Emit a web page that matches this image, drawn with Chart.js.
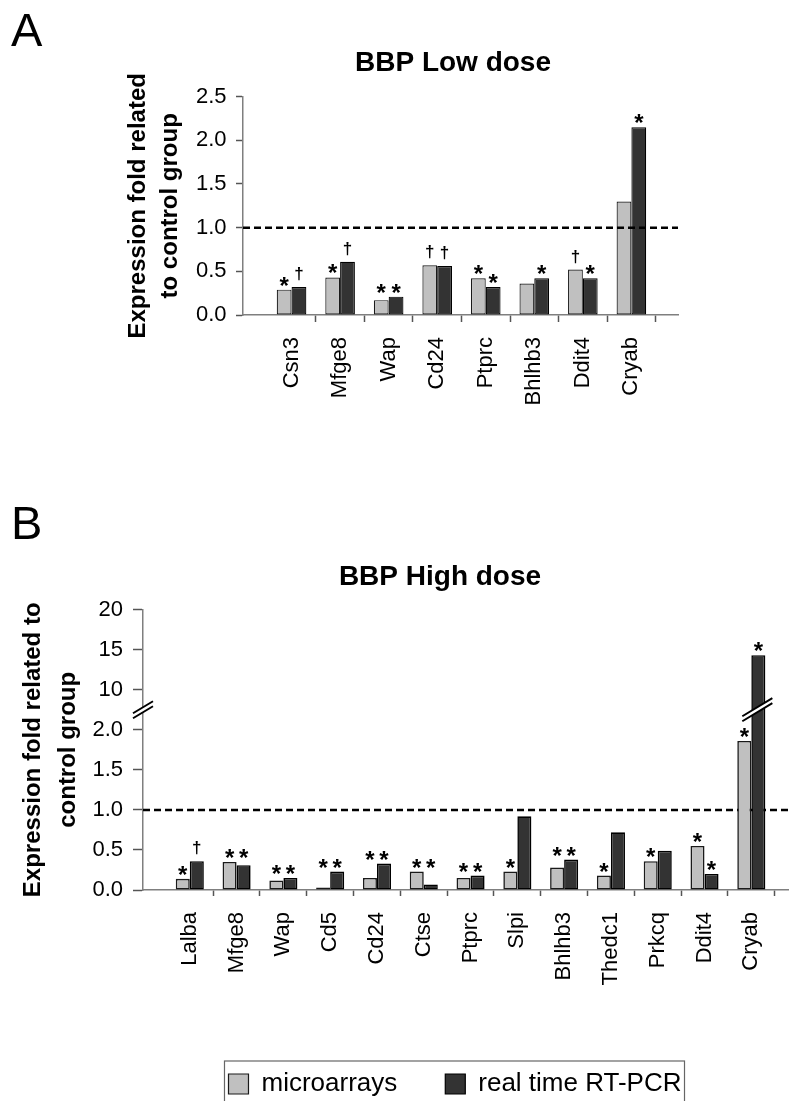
<!DOCTYPE html>
<html>
<head>
<meta charset="utf-8">
<script src="https://cdn.jsdelivr.net/npm/chart.js@4.4.0/dist/chart.umd.min.js"></script>
<style>
  html, body { margin: 0; padding: 0; background: #fff; }
  #page { position: relative; width: 789px; height: 1101px; overflow: hidden; font-family: "Liberation Sans", Arial, sans-serif; }
  canvas { position: absolute; left: 0; }
  .letter { position: absolute; left: 11px; font-size: 47px; line-height: 47px; color: #000; }
</style>
</head>
<body>
<div id="page">
  <canvas id="chartA" width="789" height="480" style="top:0"></canvas>
  <canvas id="chartB" width="880" height="621" style="top:480px"></canvas>
  <canvas id="legend" width="910" height="220" style="top:1023px"></canvas>
  <div class="letter" style="top:6px">A</div>
  <div class="letter" style="top:499px">B</div>
</div>
<script>
// --- data -------------------------------------------------------------
const SERIES = ['microarrays', 'real time RT-PCR'];
const CONTROL_LEVEL = 1.0;

// A: BBP low dose
const A_GENES = ['Csn3', 'Mfge8', 'Wap', 'Cd24', 'Ptprc', 'Bhlhb3', 'Ddit4', 'Cryab'];
const A_MICRO = [0.29, 0.43, 0.17, 0.57, 0.42, 0.36, 0.52, 1.30];
const A_RTPCR = [0.32, 0.61, 0.21, 0.56, 0.32, 0.42, 0.42, 2.15];
const A_MICRO_SIG = ['*', '*', '*', '†', '*', '', '†', ''];
const A_RTPCR_SIG = ['†', '†', '*', '†', '*', '*', '*', '*'];

// B: BBP high dose (y axis broken between 2 and 10)
const B_GENES = ['Lalba', 'Mfge8', 'Wap', 'Cd5', 'Cd24', 'Ctse', 'Ptprc', 'Slpi', 'Bhlhb3', 'Thedc1', 'Prkcq', 'Ddit4', 'Cryab'];
const B_MICRO = [0.14, 0.35, 0.12, 0.03, 0.15, 0.23, 0.15, 0.23, 0.28, 0.18, 0.36, 0.55, 1.86];
const B_RTPCR = [0.36, 0.31, 0.15, 0.23, 0.33, 0.07, 0.18, 0.92, 0.38, 0.72, 0.49, 0.20, 14.3];
const B_MICRO_SIG = ['*', '*', '*', '*', '*', '*', '*', '*', '*', '*', '*', '*', '*'];
const B_RTPCR_SIG = ['†', '*', '*', '*', '*', '*', '*', '', '*', '', '', '*', '*'];
const B_TICKS = [0, 0.5, 1, 1.5, 2, 10, 15, 20];
const B_BREAK = [2, 10];

// --- look --------------------------------------------------------------
const FONT = '"Liberation Sans", Arial, sans-serif';
const MICRO_FILL = '#c0c0c0';
const RT_FILL = '#333333';
const AXIS_GREY = '#7f7f7f';
const SIG_STYLE = { '*': { size: 24, gap: 4 }, '†': { size: 17, gap: 6 } };

Chart.defaults.font.family = FONT;
Chart.defaults.color = '#000';

// linear scale with the 2..10 gap squeezed into one tick slot
class BrokenScale extends Chart.LinearScale {
  static id = 'broken';
  static defaults = Chart.LinearScale.defaults;
  buildTicks() { return B_TICKS.map(v => ({ value: v })); }
  slot(v) {
    const [lo, hi] = B_BREAK;
    if (v <= lo) return v / 0.5;
    if (v >= hi) return 5 + (v - hi) / 5;
    return 4 + (v - lo) / (hi - lo);
  }
  getPixelForValue(v) { return this.getPixelForDecimal(this.slot(v) / 7); }
  getValueForPixel(p) {
    const s = this.getDecimalForPixel(p) * 7;
    const [lo, hi] = B_BREAK;
    if (s <= 4) return s * 0.5;
    if (s >= 5) return hi + (s - 5) * 5;
    return lo + (s - 4) * (hi - lo);
  }
}
Chart.register(BrokenScale);

// dashed line at the control level
function drawControl(chart) {
  const { ctx, chartArea } = chart;
  const y = chart.scales.y.getPixelForValue(CONTROL_LEVEL);
  ctx.save();
  ctx.setLineDash([7, 4]);
  ctx.lineWidth = 2.5;
  ctx.strokeStyle = '#000';
  ctx.beginPath();
  ctx.moveTo(chartArea.left, y);
  ctx.lineTo(chartArea.right, y);
  ctx.stroke();
  ctx.restore();
}
const controlLine = {
  id: 'controlLine',
  beforeDatasetsDraw(chart, args, opts) { if (!opts.onTop) drawControl(chart); },
  afterDatasetsDraw(chart, args, opts) { if (opts.onTop) drawControl(chart); }
};

// * and † above the bars; a pair of stars on near-equal bars shares one height
const sigMarks = {
  id: 'sigMarks',
  afterDatasetsDraw(chart, args, opts) {
    const { ctx } = chart;
    const m0 = chart.getDatasetMeta(0).data;
    const m1 = chart.getDatasetMeta(1).data;
    ctx.save();
    ctx.fillStyle = '#000';
    ctx.textAlign = 'center';
    ctx.textBaseline = 'alphabetic';
    m0.forEach((_, i) => {
      const bars = [m0[i], m1[i]];
      const syms = [opts.marks[0][i], opts.marks[1][i]];
      let tops = bars.map(b => b.y);
      if (syms[0] === '*' && syms[1] === '*' && Math.abs(tops[0] - tops[1]) < opts.alignPx) {
        const t = Math.min(tops[0], tops[1]);
        tops = [t, t];
      }
      syms.forEach((s, k) => {
        if (!s) return;
        const st = SIG_STYLE[s];
        ctx.font = 'bold ' + st.size + 'px ' + FONT;
        const desc = ctx.measureText(s).actualBoundingBoxDescent;
        ctx.fillText(s, bars[k].x, tops[k] - st.gap - desc);
      });
    });
    ctx.restore();
  }
};

// "//" marks on the y axis and on bars that cross the gap
function drawBreak(ctx, xl, xr, yc) {
  const rise = (xr - xl) * 0.6, gap = 5;
  const y1 = yc + rise / 2 + gap / 2, y2 = yc - rise / 2 + gap / 2;
  ctx.save();
  ctx.fillStyle = '#fff';
  ctx.beginPath();
  ctx.moveTo(xl, y1); ctx.lineTo(xr, y2); ctx.lineTo(xr, y2 - gap); ctx.lineTo(xl, y1 - gap);
  ctx.closePath();
  ctx.fill();
  ctx.strokeStyle = '#000';
  ctx.lineWidth = 2;
  ctx.beginPath();
  ctx.moveTo(xl, y1); ctx.lineTo(xr, y2);
  ctx.moveTo(xl, y1 - gap); ctx.lineTo(xr, y2 - gap);
  ctx.stroke();
  ctx.restore();
}
const axisBreak = {
  id: 'axisBreak',
  afterDraw(chart) {
    const { ctx, chartArea } = chart;
    const yb = chart.scales.y.getPixelForValue((B_BREAK[0] + B_BREAK[1]) / 2);
    drawBreak(ctx, chartArea.left - 10, chartArea.left + 10, yb);
    chart.data.datasets.forEach((ds, d) => {
      chart.getDatasetMeta(d).data.forEach((bar, i) => {
        if (ds.data[i].y > B_BREAK[1]) drawBreak(ctx, bar.x - bar.width / 2 - 9, bar.x + bar.width / 2 + 7, yb);
      });
    });
  }
};

// frame round the legend
const legendFrame = {
  id: 'legendFrame',
  afterDraw(chart) {
    const lg = chart.legend;
    if (!lg || !lg.legendHitBoxes.length) return;
    const hb = lg.legendHitBoxes;
    const left = Math.min(...hb.map(h => h.left)) - 4;
    const right = Math.max(...hb.map(h => h.left + h.width)) + 3;
    const top = hb[0].top - 10;
    const { ctx } = chart;
    ctx.save();
    ctx.strokeStyle = '#666';
    ctx.lineWidth = 1.2;
    ctx.strokeRect(left, top, right - left, chart.height - top + 10);
    ctx.restore();
  }
};

function datasets(micro, rt, bw) {
  return [
    { label: SERIES[0], data: micro.map((y, x) => ({ x, y })), backgroundColor: MICRO_FILL, borderColor: '#1a1a1a', borderWidth: bw },
    { label: SERIES[1], data: rt.map((y, x) => ({ x, y })), backgroundColor: RT_FILL, borderColor: '#000', borderWidth: bw }
  ];
}

function geneAxis(genes, max, tickLen, pad, plotBottom) {
  return {
    type: 'linear', min: -1, max, offset: false,
    afterBuildTicks: s => { s.ticks = genes.map((_, i) => ({ value: i })); },
    afterFit: s => { s.height = s.chart.height - plotBottom; },
    grid: {
      offset: true, drawOnChartArea: false, tickLength: tickLen, tickWidth: 1.5,
      tickColor: c => (c.index === 0 || c.index >= genes.length) ? 'rgba(0,0,0,0)' : '#555'
    },
    border: { color: AXIS_GREY, width: 1.5 },
    ticks: { autoSkip: false, minRotation: 90, maxRotation: 90, padding: pad, font: { size: 22 }, callback: (v, i) => genes[i] }
  };
}

// --- panel A -------------------------------------------------------------
new Chart(document.getElementById('chartA'), {
  type: 'bar',
  data: { datasets: datasets(A_MICRO, A_RTPCR, 1.2) },
  options: {
    responsive: false, animation: false, events: [],
    layout: { padding: { left: 228, right: 111, top: 0, bottom: 0 } },
    datasets: { bar: { categoryPercentage: 0.61, barPercentage: 1.0, borderSkipped: false } },
    scales: {
      x: geneAxis(A_GENES, 7.96, 7, 15, 315),
      y: {
        min: 0, max: 2.5,
        afterFit: s => { s.width = 15; },
        grid: { drawOnChartArea: false, tickLength: 7, tickWidth: 1.5, color: '#555' },
        border: { color: AXIS_GREY, width: 1.5 },
        // mirrored so the labels are not clipped to the narrow axis box
        ticks: { stepSize: 0.5, mirror: true, padding: -47, font: { size: 22 }, callback: v => v.toFixed(1) },
        title: {
          display: true, text: ['Expression fold related', 'to control group'],
          font: { size: 24, weight: 'bold', lineHeight: 32 / 24 }, padding: { top: -106, bottom: 0 }
        }
      }
    },
    plugins: {
      legend: { display: false },
      tooltip: { enabled: false },
      title: { display: true, text: 'BBP Low dose', font: { size: 28, weight: 'bold' }, padding: { top: 46, bottom: 17 } },
      controlLine: { onTop: true },
      sigMarks: { marks: [A_MICRO_SIG, A_RTPCR_SIG], alignPx: 6 }
    }
  },
  plugins: [controlLine, sigMarks]
});

// --- panel B -------------------------------------------------------------
new Chart(document.getElementById('chartB'), {
  type: 'bar',
  data: { datasets: datasets(B_MICRO, B_RTPCR, 1.6) },
  options: {
    responsive: false, animation: false, events: [],
    layout: { padding: 0 },
    datasets: { bar: { categoryPercentage: 0.6, barPercentage: 1.0, borderSkipped: false } },
    scales: {
      x: geneAxis(B_GENES, 14.75, 6, 16, 410),
      y: {
        type: 'broken', min: 0, max: 20,
        afterFit: s => { s.width = 143; },
        grid: { drawOnChartArea: false, tickLength: 10, tickWidth: 1.5, color: '#555' },
        border: { color: AXIS_GREY, width: 1.5 },
        ticks: { padding: 10, font: { size: 22 }, callback: v => (v <= B_BREAK[0] ? v.toFixed(1) : String(v)) },
        title: {
          display: true, text: ['Expression fold related to', 'control group'],
          font: { size: 24, weight: 'bold', lineHeight: 35 / 24 }, padding: { top: 15.5, bottom: 0 }
        }
      }
    },
    plugins: {
      legend: { display: false },
      tooltip: { enabled: false },
      title: { display: true, text: 'BBP High dose', font: { size: 28, weight: 'bold' }, padding: { top: 80, bottom: 16 } },
      controlLine: { onTop: false },
      sigMarks: { marks: [B_MICRO_SIG, B_RTPCR_SIG], alignPx: 20 }
    }
  },
  plugins: [controlLine, sigMarks, axisBreak]
});

// --- shared legend ------------------------------------------------------------
new Chart(document.getElementById('legend'), {
  type: 'bar',
  data: { datasets: datasets([], [], 1.2) },
  options: {
    responsive: false, animation: false, events: [],
    scales: { x: { display: false }, y: { display: false } },
    plugins: {
      tooltip: { enabled: false },
      legend: {
        position: 'top',
        labels: { boxWidth: 20, boxHeight: 20, padding: 48, font: { size: 26 } }
      }
    }
  },
  plugins: [legendFrame]
});
</script>
</body>
</html>
